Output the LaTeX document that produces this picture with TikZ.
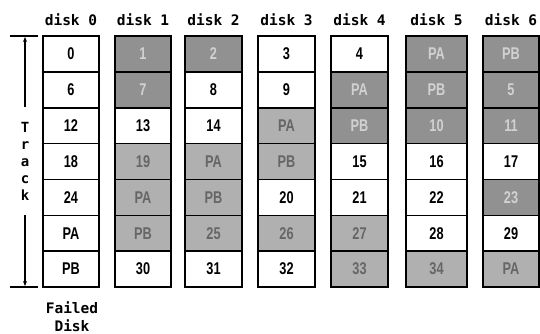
\documentclass[tikz,border=0pt]{standalone}
\usepackage{fontspec}
\newfontfamily\cellfont[FakeStretch=0.75]{Liberation Sans Bold}
\newfontfamily\labfont{DejaVu Sans Mono Bold}
\usetikzlibrary{arrows.meta}
\newcommand\diskcol[4]{%
  \foreach \t/\s [count=\r from 0] in {#4}{%
    \node[cell,\s,minimum width=#3pt] (c#1-\r) at ({#2+#3/2},{36+17.93+35.86*\r}) {\t};}}
\begin{document}
\begin{tikzpicture}[x=1pt,y=-1pt,
  cell/.style={draw=black,line width=1.6pt,minimum height=35.86pt,inner sep=0pt,
    font=\cellfont\fontsize{17}{17}\selectfont},
  wc/.style={fill=white,text=black},
  dk/.style={fill=black!43,text=black!18},
  lt/.style={fill=black!31,text=black!60},
  hdr/.style={anchor=base,inner sep=0pt,font=\labfont\fontsize{14.5}{14.5}\selectfont},
  trk/.style={anchor=base,inner sep=0pt,font=\labfont\fontsize{14}{14}\selectfont},
  axis/.style={line width=1.3pt},
  tip/.style={-{Stealth[length=5pt,width=4pt]}}]
\useasboundingbox (0,0) rectangle (540,333);
\diskcol{0}{43}{56}{0/wc,6/wc,12/wc,18/wc,24/wc,PA/wc,PB/wc}
\diskcol{1}{115}{56}{1/dk,7/dk,13/wc,19/lt,PA/lt,PB/lt,30/wc}
\diskcol{2}{185}{57}{2/dk,8/wc,14/wc,PA/lt,PB/lt,25/lt,31/wc}
\diskcol{3}{258}{57}{3/wc,9/wc,PA/lt,PB/lt,20/wc,26/lt,32/wc}
\diskcol{4}{331}{57}{4/wc,PA/dk,PB/dk,15/wc,21/wc,27/lt,33/lt}
\diskcol{5}{406}{61}{PA/dk,PB/dk,10/dk,16/wc,22/wc,28/wc,34/lt}
\diskcol{6}{483}{56}{PB/dk,5/dk,11/dk,17/wc,23/dk,29/wc,PA/lt}
\node[hdr] (h0) at (71,25) {disk 0};
\node[hdr] (h1) at (143,25) {disk 1};
\node[hdr] (h2) at (213.5,25) {disk 2};
\node[hdr] (h3) at (286.5,25) {disk 3};
\node[hdr] (h4) at (359.5,25) {disk 4};
\node[hdr] (h5) at (436.5,25) {disk 5};
\node[hdr] (h6) at (511,25) {disk 6};
% Track axis
\coordinate (tl) at (10,36);
\coordinate (tr) at (38,36);
\coordinate (bl) at (10,287);
\coordinate (br) at (38,287);
\coordinate (ttop) at (25,37);
\coordinate (tmid1) at (25,107);
\coordinate (tmid2) at (25,215);
\coordinate (tbot) at (25,286);
\draw[axis] (tl) -- (tr);
\draw[axis] (bl) -- (br);
\draw[axis,tip] (tmid1) -- (ttop);
\draw[axis,tip] (tmid2) -- (tbot);
\node[trk] (lT) at (25,132) {T};
\node[trk] (lr) at (25,149) {r};
\node[trk] (la) at (25,166) {a};
\node[trk] (lc) at (25,183) {c};
\node[trk] (lk) at (25,200) {k};
\node[hdr] (fa) at (72,313) {Failed};
\node[hdr] (fd) at (72,331) {Disk};
\end{tikzpicture}
\end{document}
